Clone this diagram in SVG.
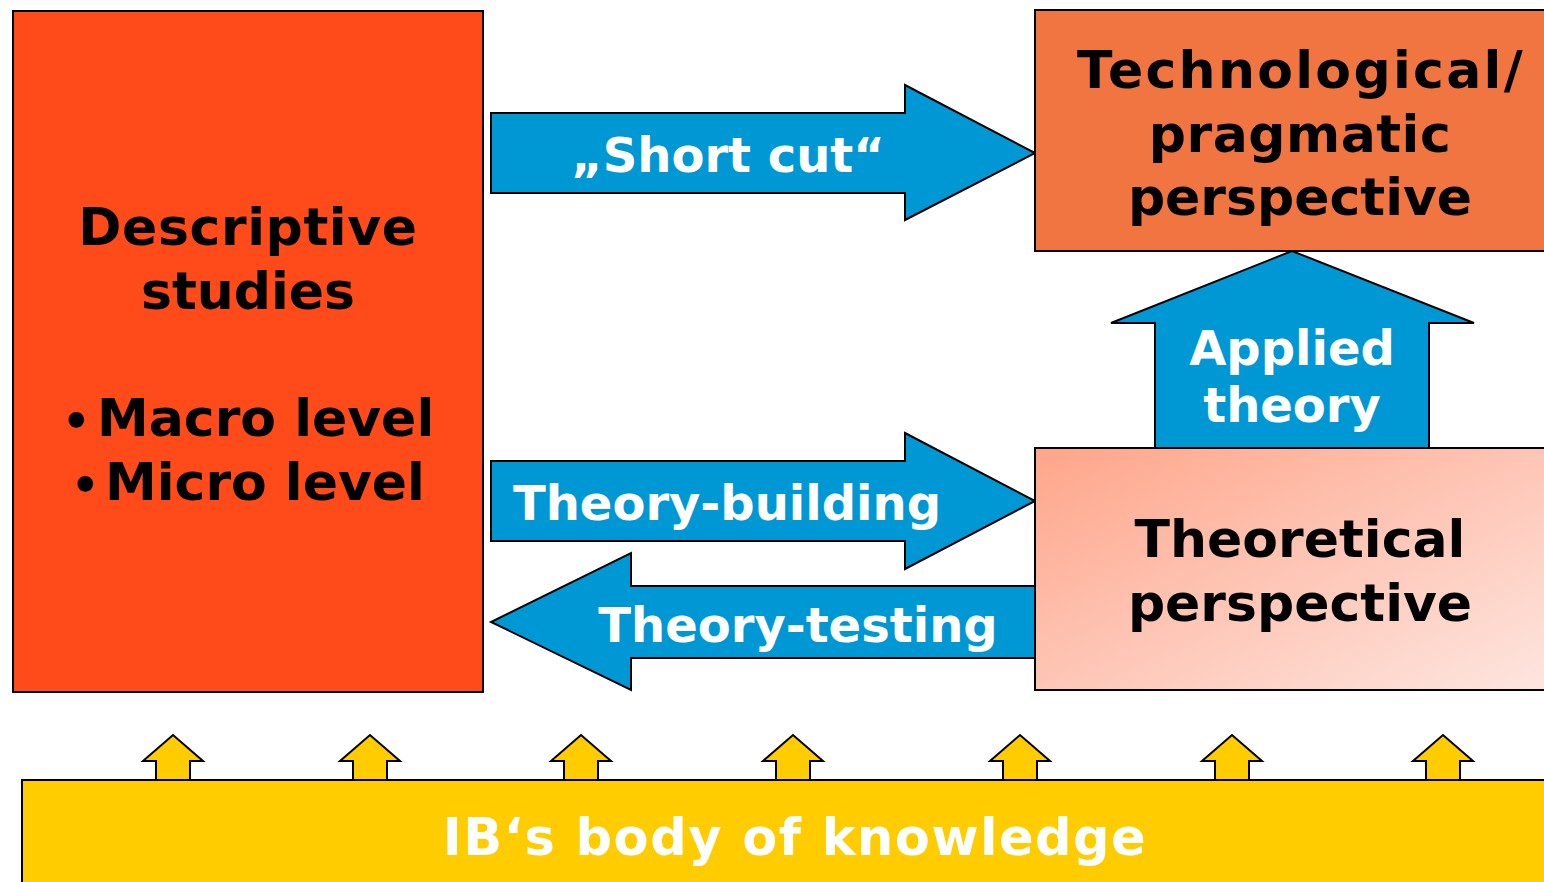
<svg xmlns="http://www.w3.org/2000/svg" width="1544" height="882" viewBox="0 0 1544 882">
  <style>
    .lbl { font-family: "DejaVu Sans", Verdana, sans-serif; font-weight: bold; text-anchor: middle; }
    .start { text-anchor: start; }
    .dark { fill: #000000; }
    .light { fill: #FFFFFF; }
    .box { stroke: #000000; stroke-width: 2; }
    .blue { fill: #0098D4; stroke: #000000; stroke-width: 2; stroke-linejoin: miter; }
    .small { fill: #FFCC00; stroke: #000000; stroke-width: 2; }
  </style>
  <defs>
    <linearGradient id="theoGrad" x1="0" y1="0" x2="1" y2="1">
      <stop offset="0" stop-color="#FFA58A"/>
      <stop offset="1" stop-color="#FDE6E0"/>
    </linearGradient>
  </defs>

  <rect width="1544" height="882" fill="#FFFFFF"/>

  <!-- connectors -->
  <g id="connectors">
    <!-- small upward arrows standing on the knowledge base -->
    <g id="base-arrows">
      <path class="small" d="M156,781 V761 H143 L173,735 L203,761 H190 V781"/>
      <path class="small" d="M353,781 V761 H340 L370,735 L400,761 H387 V781"/>
      <path class="small" d="M564,781 V761 H551 L581,735 L611,761 H598 V781"/>
      <path class="small" d="M776,781 V761 H763 L793,735 L823,761 H810 V781"/>
      <path class="small" d="M1003,781 V761 H990 L1020,735 L1050,761 H1037 V781"/>
      <path class="small" d="M1215,781 V761 H1202 L1232,735 L1262,761 H1249 V781"/>
      <path class="small" d="M1426,781 V761 H1413 L1443,735 L1473,761 H1460 V781"/>
    </g>

    <g id="shortcut">
      <path class="blue" d="M491,113 H905 V85 L1035,153 L905,220 V193 H491 Z"/>
      <text class="lbl light" x="728" y="172" font-size="48">„Short cut“</text>
    </g>

    <g id="applied">
      <path class="blue" d="M1155,449 V323 H1111 L1292,251 L1474,323 H1429 V449"/>
      <text class="lbl light" x="1292" y="365" font-size="48">Applied</text>
      <text class="lbl light" x="1292" y="422" font-size="48">theory</text>
    </g>

    <g id="building">
      <path class="blue" d="M491,461 H905 V433 L1035,501 L905,569 V541 H491 Z"/>
      <text class="lbl light" x="727" y="520" font-size="48">Theory-building</text>
    </g>

    <g id="testing">
      <path class="blue" d="M1036,586 H631 V553 L491,622 L631,690 V658 H1036"/>
      <text class="lbl light" x="798" y="642" font-size="48">Theory-testing</text>
    </g>
  </g>

  <!-- knowledge base band -->
  <g id="knowledge">
    <rect class="box" x="22" y="780" width="1530" height="110" fill="#FFCC00"/>
    <text class="lbl light" x="795" y="855" font-size="51" letter-spacing="1.5">IB‘s body of knowledge</text>
  </g>

  <!-- descriptive studies -->
  <g id="descriptive">
    <rect class="box" x="13" y="11" width="470" height="681" fill="#FE4B19"/>
    <text class="lbl dark" x="248" y="245" font-size="52" letter-spacing="0.6">Descriptive</text>
    <text class="lbl dark" x="248" y="309" font-size="52">studies</text>
    <text class="lbl dark start" x="62" y="436" font-size="52"><tspan font-size="44">•</tspan><tspan x="97">Macro level</tspan></text>
    <text class="lbl dark start" x="71" y="500" font-size="52"><tspan font-size="44">•</tspan><tspan x="105">Micro level</tspan></text>
  </g>

  <!-- technological / pragmatic perspective -->
  <g id="technological">
    <rect class="box" x="1035" y="10" width="520" height="241" fill="#F07540"/>
    <text class="lbl dark" x="1301" y="88" font-size="52" letter-spacing="2.3">Technological/</text>
    <text class="lbl dark" x="1300" y="152" font-size="52" letter-spacing="0.5">pragmatic</text>
    <text class="lbl dark" x="1300" y="215" font-size="52">perspective</text>
  </g>

  <!-- theoretical perspective -->
  <g id="theoretical">
    <rect class="box" x="1035" y="448" width="520" height="242" fill="url(#theoGrad)"/>
    <text class="lbl dark" x="1300" y="557" font-size="52">Theoretical</text>
    <text class="lbl dark" x="1300" y="621" font-size="52">perspective</text>
  </g>
</svg>
